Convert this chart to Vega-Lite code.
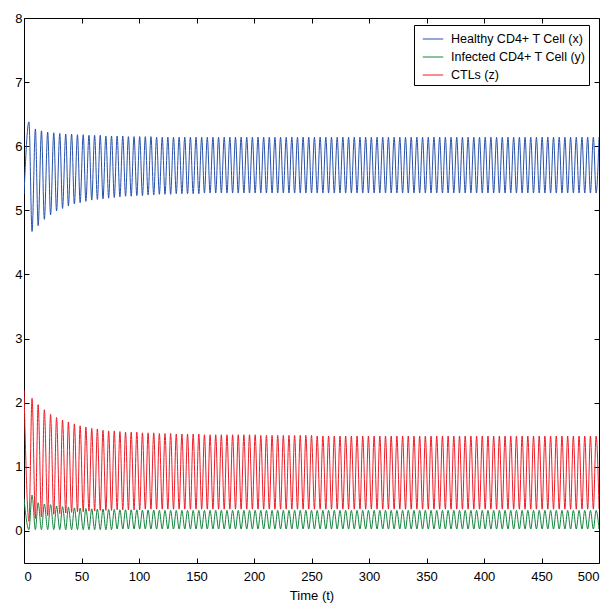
{
"$schema": "https://vega.github.io/schema/vega-lite/v6.json",
"width": 575, "height": 545,
"autosize": {"type": "none"},
"padding": {"left": 24, "top": 18, "right": 12, "bottom": 43},
"background": "white",
"config": {
 "view": {"stroke": "black", "strokeWidth": 1},
 "font": "Liberation Sans",
 "axis": {"domain": false, "grid": false, "tickColor": "black", "tickSize": -5, "tickWidth": 1, "labelFont": "Liberation Sans", "labelFontSize": 13, "labelColor": "black", "titleFont": "Liberation Sans", "titleFontSize": 13, "titleFontWeight": "normal", "titleColor": "black"},
 "axisX": {"labelPadding": 12},
 "axisY": {"labelPadding": 7},
 "legend": {"orient": "none", "legendX": 390, "legendY": 7, "strokeColor": "black", "fillColor": "white", "padding": 3, "symbolOffset": 5, "symbolType": "stroke", "symbolSize": 420, "symbolStrokeWidth": 1, "labelFont": "Liberation Sans", "labelFontSize": 12.5, "labelColor": "black", "labelOffset": 7, "rowPadding": -1, "title": null}
},
"data": {"values": [
{"t":0,"x":5.25,"y":0.5,"z":2.2},
{"t":4.3,"x":6.38,"y":0.02,"z":0.15},{"t":7.0,"x":4.67,"y":0.56,"z":2.07},
{"t":9.9,"x":6.27,"y":0.02,"z":0.19},{"t":12.3,"x":4.76,"y":0.44,"z":1.97},
{"t":15.2,"x":6.24,"y":0.02,"z":0.22},{"t":17.7,"x":4.86,"y":0.42,"z":1.89},
{"t":20.6,"x":6.22,"y":0.02,"z":0.24},{"t":23.1,"x":4.93,"y":0.41,"z":1.82},
{"t":25.9,"x":6.21,"y":0.02,"z":0.26},{"t":28.3,"x":4.99,"y":0.39,"z":1.77},
{"t":31.1,"x":6.2,"y":0.02,"z":0.27},{"t":33.5,"x":5.03,"y":0.38,"z":1.73},
{"t":36.3,"x":6.19,"y":0.02,"z":0.28},{"t":38.6,"x":5.07,"y":0.37,"z":1.7},
{"t":41.4,"x":6.19,"y":0.02,"z":0.29},{"t":43.8,"x":5.1,"y":0.36,"z":1.67},
{"t":46.5,"x":6.18,"y":0.02,"z":0.3},{"t":48.8,"x":5.12,"y":0.355,"z":1.64},
{"t":51.5,"x":6.18,"y":0.02,"z":0.3},{"t":53.8,"x":5.14,"y":0.35,"z":1.62},
{"t":56.5,"x":6.17,"y":0.02,"z":0.31},{"t":58.9,"x":5.16,"y":0.345,"z":1.6},
{"t":61.4,"x":6.17,"y":0.02,"z":0.31},{"t":63.8,"x":5.17,"y":0.34,"z":1.59},
{"t":66.3,"x":6.17,"y":0.02,"z":0.32},{"t":68.7,"x":5.18,"y":0.34,"z":1.57},
{"t":71.2,"x":6.16,"y":0.02,"z":0.32},{"t":73.6,"x":5.19,"y":0.335,"z":1.56},
{"t":76.1,"x":6.16,"y":0.02,"z":0.32},{"t":78.5,"x":5.2,"y":0.335,"z":1.56},
{"t":81.0,"x":6.16,"y":0.03,"z":0.33},{"t":83.4,"x":5.21,"y":0.33,"z":1.55},
{"t":85.9,"x":6.16,"y":0.03,"z":0.33},{"t":88.3,"x":5.22,"y":0.33,"z":1.54},
{"t":90.8,"x":6.15,"y":0.03,"z":0.33},{"t":93.2,"x":5.22,"y":0.33,"z":1.54},
{"t":95.7,"x":6.15,"y":0.03,"z":0.33},{"t":98.1,"x":5.23,"y":0.33,"z":1.54},
{"t":100.6,"x":6.15,"y":0.03,"z":0.33},{"t":103.0,"x":5.23,"y":0.325,"z":1.53},
{"t":105.5,"x":6.15,"y":0.03,"z":0.34},{"t":107.9,"x":5.24,"y":0.325,"z":1.53},
{"t":110.4,"x":6.15,"y":0.03,"z":0.34},{"t":112.8,"x":5.24,"y":0.325,"z":1.53},
{"t":115.3,"x":6.14,"y":0.03,"z":0.34},{"t":117.7,"x":5.25,"y":0.32,"z":1.52},
{"t":120.2,"x":6.14,"y":0.03,"z":0.34},{"t":122.6,"x":5.25,"y":0.32,"z":1.52},
{"t":125.1,"x":6.14,"y":0.03,"z":0.34},{"t":127.5,"x":5.25,"y":0.32,"z":1.52},
{"t":130.0,"x":6.14,"y":0.03,"z":0.34},{"t":132.4,"x":5.26,"y":0.32,"z":1.51},
{"t":134.9,"x":6.14,"y":0.03,"z":0.34},{"t":137.3,"x":5.26,"y":0.32,"z":1.51},
{"t":139.8,"x":6.14,"y":0.03,"z":0.34},{"t":142.2,"x":5.26,"y":0.32,"z":1.51},
{"t":144.7,"x":6.14,"y":0.03,"z":0.34},{"t":147.1,"x":5.26,"y":0.32,"z":1.51},
{"t":149.6,"x":6.14,"y":0.03,"z":0.34},{"t":152.0,"x":5.26,"y":0.32,"z":1.51},
{"t":154.5,"x":6.14,"y":0.03,"z":0.34},{"t":156.9,"x":5.27,"y":0.32,"z":1.5},
{"t":159.4,"x":6.14,"y":0.03,"z":0.34},{"t":161.8,"x":5.27,"y":0.32,"z":1.5},
{"t":164.3,"x":6.14,"y":0.03,"z":0.34},{"t":166.7,"x":5.27,"y":0.32,"z":1.5},
{"t":169.2,"x":6.14,"y":0.03,"z":0.34},{"t":171.6,"x":5.27,"y":0.32,"z":1.5},
{"t":174.1,"x":6.14,"y":0.03,"z":0.34},{"t":176.5,"x":5.27,"y":0.32,"z":1.5},
{"t":179.0,"x":6.14,"y":0.03,"z":0.34},{"t":181.4,"x":5.27,"y":0.32,"z":1.5},
{"t":183.9,"x":6.14,"y":0.03,"z":0.34},{"t":186.3,"x":5.27,"y":0.32,"z":1.5},
{"t":188.8,"x":6.14,"y":0.03,"z":0.34},{"t":191.2,"x":5.27,"y":0.32,"z":1.5},
{"t":193.7,"x":6.14,"y":0.03,"z":0.34},{"t":196.1,"x":5.27,"y":0.32,"z":1.5},
{"t":198.6,"x":6.14,"y":0.03,"z":0.34},{"t":201.0,"x":5.27,"y":0.32,"z":1.5},
{"t":203.5,"x":6.14,"y":0.03,"z":0.34},{"t":205.9,"x":5.27,"y":0.32,"z":1.49},
{"t":208.4,"x":6.14,"y":0.03,"z":0.34},{"t":210.8,"x":5.27,"y":0.32,"z":1.49},
{"t":213.3,"x":6.14,"y":0.03,"z":0.34},{"t":215.7,"x":5.27,"y":0.32,"z":1.49},
{"t":218.2,"x":6.14,"y":0.03,"z":0.34},{"t":220.6,"x":5.27,"y":0.32,"z":1.49},
{"t":223.1,"x":6.14,"y":0.03,"z":0.34},{"t":225.5,"x":5.27,"y":0.32,"z":1.49},
{"t":228.0,"x":6.14,"y":0.03,"z":0.34},{"t":230.4,"x":5.27,"y":0.32,"z":1.49},
{"t":232.9,"x":6.14,"y":0.03,"z":0.34},{"t":235.3,"x":5.27,"y":0.32,"z":1.49},
{"t":237.8,"x":6.14,"y":0.03,"z":0.34},{"t":240.2,"x":5.27,"y":0.32,"z":1.49},
{"t":242.7,"x":6.14,"y":0.03,"z":0.34},{"t":245.1,"x":5.27,"y":0.32,"z":1.49},
{"t":247.6,"x":6.14,"y":0.03,"z":0.34},{"t":250.0,"x":5.27,"y":0.32,"z":1.49},
{"t":252.55,"x":6.14,"y":0.03,"z":0.34},{"t":254.95,"x":5.27,"y":0.32,"z":1.48},
{"t":257.5,"x":6.14,"y":0.03,"z":0.34},{"t":259.9,"x":5.27,"y":0.32,"z":1.48},
{"t":262.45,"x":6.14,"y":0.03,"z":0.34},{"t":264.85,"x":5.27,"y":0.32,"z":1.48},
{"t":267.4,"x":6.14,"y":0.03,"z":0.34},{"t":269.8,"x":5.27,"y":0.32,"z":1.48},
{"t":272.35,"x":6.14,"y":0.03,"z":0.34},{"t":274.75,"x":5.27,"y":0.32,"z":1.48},
{"t":277.3,"x":6.14,"y":0.03,"z":0.34},{"t":279.7,"x":5.27,"y":0.32,"z":1.48},
{"t":282.25,"x":6.14,"y":0.03,"z":0.34},{"t":284.65,"x":5.27,"y":0.32,"z":1.48},
{"t":287.2,"x":6.14,"y":0.03,"z":0.34},{"t":289.6,"x":5.27,"y":0.32,"z":1.48},
{"t":292.15,"x":6.14,"y":0.03,"z":0.34},{"t":294.55,"x":5.27,"y":0.32,"z":1.48},
{"t":297.1,"x":6.14,"y":0.03,"z":0.34},{"t":299.5,"x":5.27,"y":0.32,"z":1.48},
{"t":302.05,"x":6.14,"y":0.03,"z":0.34},{"t":304.45,"x":5.27,"y":0.32,"z":1.48},
{"t":307.0,"x":6.14,"y":0.03,"z":0.34},{"t":309.4,"x":5.27,"y":0.32,"z":1.48},
{"t":311.95,"x":6.14,"y":0.03,"z":0.34},{"t":314.35,"x":5.27,"y":0.32,"z":1.48},
{"t":316.9,"x":6.14,"y":0.03,"z":0.34},{"t":319.3,"x":5.27,"y":0.32,"z":1.48},
{"t":321.85,"x":6.14,"y":0.03,"z":0.34},{"t":324.25,"x":5.27,"y":0.32,"z":1.48},
{"t":326.8,"x":6.14,"y":0.03,"z":0.34},{"t":329.2,"x":5.27,"y":0.32,"z":1.48},
{"t":331.75,"x":6.14,"y":0.03,"z":0.34},{"t":334.15,"x":5.27,"y":0.32,"z":1.48},
{"t":336.7,"x":6.14,"y":0.03,"z":0.34},{"t":339.1,"x":5.27,"y":0.32,"z":1.48},
{"t":341.65,"x":6.14,"y":0.03,"z":0.34},{"t":344.05,"x":5.27,"y":0.32,"z":1.48},
{"t":346.6,"x":6.14,"y":0.03,"z":0.34},{"t":349.0,"x":5.27,"y":0.32,"z":1.48},
{"t":351.55,"x":6.14,"y":0.03,"z":0.34},{"t":353.95,"x":5.27,"y":0.32,"z":1.48},
{"t":356.5,"x":6.14,"y":0.03,"z":0.34},{"t":358.9,"x":5.27,"y":0.32,"z":1.48},
{"t":361.45,"x":6.14,"y":0.03,"z":0.34},{"t":363.85,"x":5.27,"y":0.32,"z":1.48},
{"t":366.4,"x":6.14,"y":0.03,"z":0.34},{"t":368.8,"x":5.27,"y":0.32,"z":1.48},
{"t":371.35,"x":6.14,"y":0.03,"z":0.34},{"t":373.75,"x":5.27,"y":0.32,"z":1.48},
{"t":376.3,"x":6.14,"y":0.03,"z":0.34},{"t":378.7,"x":5.27,"y":0.32,"z":1.48},
{"t":381.25,"x":6.14,"y":0.03,"z":0.34},{"t":383.65,"x":5.27,"y":0.32,"z":1.48},
{"t":386.2,"x":6.14,"y":0.03,"z":0.34},{"t":388.6,"x":5.27,"y":0.32,"z":1.48},
{"t":391.15,"x":6.14,"y":0.03,"z":0.34},{"t":393.55,"x":5.27,"y":0.32,"z":1.48},
{"t":396.1,"x":6.14,"y":0.03,"z":0.34},{"t":398.5,"x":5.27,"y":0.32,"z":1.48},
{"t":401.05,"x":6.14,"y":0.03,"z":0.34},{"t":403.45,"x":5.27,"y":0.32,"z":1.48},
{"t":406.0,"x":6.14,"y":0.03,"z":0.34},{"t":408.4,"x":5.27,"y":0.32,"z":1.48},
{"t":410.95,"x":6.14,"y":0.03,"z":0.34},{"t":413.35,"x":5.27,"y":0.32,"z":1.48},
{"t":415.9,"x":6.14,"y":0.03,"z":0.34},{"t":418.3,"x":5.27,"y":0.32,"z":1.48},
{"t":420.85,"x":6.14,"y":0.03,"z":0.34},{"t":423.25,"x":5.27,"y":0.32,"z":1.48},
{"t":425.8,"x":6.14,"y":0.03,"z":0.34},{"t":428.2,"x":5.27,"y":0.32,"z":1.48},
{"t":430.75,"x":6.14,"y":0.03,"z":0.34},{"t":433.15,"x":5.27,"y":0.32,"z":1.48},
{"t":435.7,"x":6.14,"y":0.03,"z":0.34},{"t":438.1,"x":5.27,"y":0.32,"z":1.48},
{"t":440.65,"x":6.14,"y":0.03,"z":0.34},{"t":443.05,"x":5.27,"y":0.32,"z":1.48},
{"t":445.6,"x":6.14,"y":0.03,"z":0.34},{"t":448.0,"x":5.27,"y":0.32,"z":1.48},
{"t":450.55,"x":6.14,"y":0.03,"z":0.34},{"t":452.95,"x":5.27,"y":0.32,"z":1.48},
{"t":455.5,"x":6.14,"y":0.03,"z":0.34},{"t":457.9,"x":5.27,"y":0.32,"z":1.48},
{"t":460.45,"x":6.14,"y":0.03,"z":0.34},{"t":462.85,"x":5.27,"y":0.32,"z":1.48},
{"t":465.4,"x":6.14,"y":0.03,"z":0.34},{"t":467.8,"x":5.27,"y":0.32,"z":1.48},
{"t":470.35,"x":6.14,"y":0.03,"z":0.34},{"t":472.75,"x":5.27,"y":0.32,"z":1.48},
{"t":475.3,"x":6.14,"y":0.03,"z":0.34},{"t":477.7,"x":5.27,"y":0.32,"z":1.48},
{"t":480.25,"x":6.14,"y":0.03,"z":0.34},{"t":482.65,"x":5.27,"y":0.32,"z":1.48},
{"t":485.2,"x":6.14,"y":0.03,"z":0.34},{"t":487.6,"x":5.27,"y":0.32,"z":1.48},
{"t":490.15,"x":6.14,"y":0.03,"z":0.34},{"t":492.55,"x":5.27,"y":0.32,"z":1.48},
{"t":495.1,"x":6.14,"y":0.03,"z":0.34},{"t":497.5,"x":5.27,"y":0.32,"z":1.48},
{"t":500.05,"x":6.14,"y":0.03,"z":0.34}
]},
"layer": [
 {"mark": {"type": "line", "interpolate": "monotone", "strokeWidth": 1, "clip": true},
  "encoding": {
   "x": {"field": "t", "type": "quantitative", "scale": {"domain": [0, 500], "nice": false, "zero": false}, "axis": {"orient": "bottom", "values": [0,50,100,150,200,250,300,350,400,450,500], "title": "Time (t)", "titlePadding": 6}},
   "y": {"field": "x", "type": "quantitative", "scale": {"domain": [-0.5, 8], "nice": false, "zero": false}, "axis": {"orient": "left", "values": [0,1,2,3,4,5,6,7,8], "title": null}},
   "color": {"datum": "Healthy CD4+ T Cell (x)", "type": "nominal", "scale": {"domain": ["Healthy CD4+ T Cell (x)", "Infected CD4+ T Cell (y)", "CTLs (z)"], "range": ["#2650ac", "#11843c", "#ef1b25"]}}
  }},
 {"mark": {"type": "line", "interpolate": "monotone", "strokeWidth": 1, "clip": true},
  "encoding": {
   "x": {"field": "t", "type": "quantitative", "axis": {"orient": "top", "values": [0,50,100,150,200,250,300,350,400,450,500], "labels": false, "title": null}},
   "y": {"field": "y", "type": "quantitative", "axis": {"orient": "right", "values": [0,1,2,3,4,5,6,7,8], "labels": false, "title": null}},
   "color": {"datum": "Infected CD4+ T Cell (y)", "type": "nominal"}
  }},
 {"mark": {"type": "line", "interpolate": "monotone", "strokeWidth": 1, "clip": true},
  "encoding": {
   "x": {"field": "t", "type": "quantitative", "axis": null},
   "y": {"field": "z", "type": "quantitative", "axis": null},
   "color": {"datum": "CTLs (z)", "type": "nominal"}
  }}
],
"resolve": {"axis": {"x": "independent", "y": "independent"}}
}
